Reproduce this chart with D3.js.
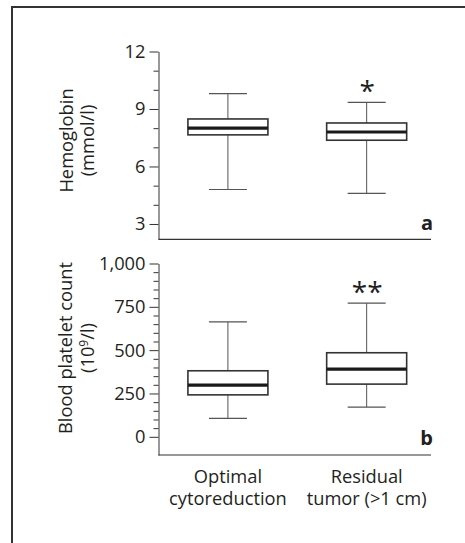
<!DOCTYPE html>
<html>
<head>
<meta charset="utf-8">
<script src="https://cdn.jsdelivr.net/npm/d3@7"></script>
<style>
  html, body { margin: 0; padding: 0; background: #fff; }
  svg { display: block; }
  text { font-family: "Open Sans", sans-serif; fill: #231f20; }
</style>
</head>
<body>
<svg id="chart" width="465" height="543"></svg>
<script>
// ---- data ----
const categories = ["Optimal cytoreduction", "Residual tumor (>1 cm)"];
const categoryLines = [["Optimal", "cytoreduction"], ["Residual", "tumor (>1 cm)"]];

// Hemoglobin (mmol/l): [lower whisker, Q1, median, Q3, upper whisker]
const hemoglobinStats = [
  [4.8, 7.65, 8.0, 8.48, 9.8],
  [4.6, 7.37, 7.8, 8.27, 9.34]
];
// Blood platelet count (10^9/l)
const plateletStats = [
  [106, 242, 298, 381, 663],
  [171, 304, 391, 485, 771]
];

const hemoglobinTicks = [3, 6, 9, 12];
const hemoglobinMinor = [4, 5, 7, 8, 10, 11];
const plateletTicks = [0, 250, 500, 750, 1000];
const plateletMinor = [50, 100, 150, 200, 300, 350, 400, 450, 550, 600, 650, 700, 800, 850, 900, 950];

const significance = ["", "*"];
const significanceB = ["", "**"];

// ---- layout ----
const svg = d3.select("#chart");
const axisX = 158.5, axisRight = 431;
const fs = "18.3px";

// frame
svg.append("path")
  .attr("d", "M12,543 V7 H465")
  .attr("fill", "none").attr("stroke", "#333").attr("stroke-width", 2);

const x = d3.scalePoint().domain(categories).range([axisX, axisRight]).padding(0.482).align(0.519);
const boxW = 80, capW = 38;

function panel(opts) {
  const g = svg.append("g");
  const y = d3.scaleLinear().domain(opts.domain).range(opts.range);

  // minor ticks
  g.append("g").attr("transform", `translate(${axisX},0)`)
    .call(d3.axisLeft(y).tickValues(opts.minor).tickSize(5).tickFormat(""))
    .call(a => a.select(".domain").remove())
    .selectAll("line").attr("stroke", "#333");

  // major ticks + domain
  const ax = g.append("g").attr("transform", `translate(${axisX},0)`)
    .call(d3.axisLeft(y).tickValues(opts.ticks).tickSize(9).tickSizeOuter(0).tickPadding(4)
      .tickFormat(opts.format));
  ax.select(".domain").attr("stroke", "#333");
  ax.selectAll(".tick line").attr("stroke", "#333");
  ax.selectAll(".tick text").style("font-family", '"Open Sans", sans-serif')
    .style("font-size", fs).attr("fill", "#231f20");

  // x axis line
  g.append("line")
    .attr("x1", axisX).attr("x2", axisRight)
    .attr("y1", y(opts.domain[0])).attr("y2", y(opts.domain[0]))
    .attr("stroke", "#333").attr("stroke-width", 1.2);

  // boxes
  opts.stats.forEach((s, i) => {
    const cx = x(categories[i]);
    const bg = g.append("g");
    // whiskers
    bg.append("line").attr("x1", cx).attr("x2", cx).attr("y1", y(s[0])).attr("y2", y(s[1]))
      .attr("stroke", "#555").attr("stroke-width", 1);
    bg.append("line").attr("x1", cx).attr("x2", cx).attr("y1", y(s[3])).attr("y2", y(s[4]))
      .attr("stroke", "#555").attr("stroke-width", 1);
    [s[0], s[4]].forEach(v => {
      bg.append("line").attr("x1", cx - capW / 2).attr("x2", cx + capW / 2)
        .attr("y1", y(v)).attr("y2", y(v)).attr("stroke", "#555").attr("stroke-width", 1.2);
    });
    bg.append("rect").attr("x", cx - boxW / 2).attr("width", boxW)
      .attr("y", y(s[3])).attr("height", y(s[1]) - y(s[3]))
      .attr("fill", "#fff").attr("stroke", "#333").attr("stroke-width", 1.6);
    bg.append("line").attr("x1", cx - boxW / 2).attr("x2", cx + boxW / 2)
      .attr("y1", y(s[2])).attr("y2", y(s[2])).attr("stroke", "#1a1a1a").attr("stroke-width", 3.2);
    // significance
    if (opts.sig[i]) {
      g.append("text").attr("x", cx + 0.5).attr("y", opts.sigY)
        .attr("text-anchor", "middle").style("font-size", "28px").text(opts.sig[i]);
    }
  });

  // y title
  const t = g.append("text")
    .attr("transform", `translate(${opts.titleX},${opts.titleY}) rotate(-90)`)
    .attr("text-anchor", "middle").style("font-size", fs);
  opts.title.forEach((ln, k) => {
    const ts = t.append("tspan").attr("x", 0).attr("y", k * 21.5);
    if (Array.isArray(ln)) {
      ln.forEach(part => {
        const p = ts.append("tspan").text(part.t);
        if (part.sup) p.attr("dy", -6).style("font-size", "12px");
        else if (part.after) p.attr("dy", 6);
      });
    } else ts.text(ln);
  });

  // panel letter
  g.append("text").attr("x", 433).attr("y", opts.letterY).attr("text-anchor", "end")
    .style("font-size", "20px").style("font-weight", "bold").text(opts.letter);
  return y;
}

panel({
  domain: [2.2, 12], range: [239.3, 51.5],
  ticks: hemoglobinTicks, minor: hemoglobinMinor, format: d3.format("d"),
  stats: hemoglobinStats, sig: significance, sigY: 100.5,
  title: ["Hemoglobin", "(mmol/l)"], titleX: 72.5, titleY: 140.5,
  letter: "a", letterY: 230
});

panel({
  domain: [-105, 1000], range: [455, 263.5],
  ticks: plateletTicks, minor: plateletMinor, format: d3.format(","),
  stats: plateletStats, sig: significanceB, sigY: 302,
  title: ["Blood platelet count", [{t: "(10"}, {t: "9", sup: true}, {t: "/l)", after: true}]],
  titleX: 72, titleY: 348,
  letter: "b", letterY: 445
});

// category labels
categoryLines.forEach((lines, i) => {
  const tx = svg.append("text").attr("text-anchor", "middle").style("font-size", fs);
  lines.forEach((ln, k) => {
    tx.append("tspan").attr("x", x(categories[i])).attr("y", 482.5 + k * 22).text(ln);
  });
});
</script>
</body>
</html>
